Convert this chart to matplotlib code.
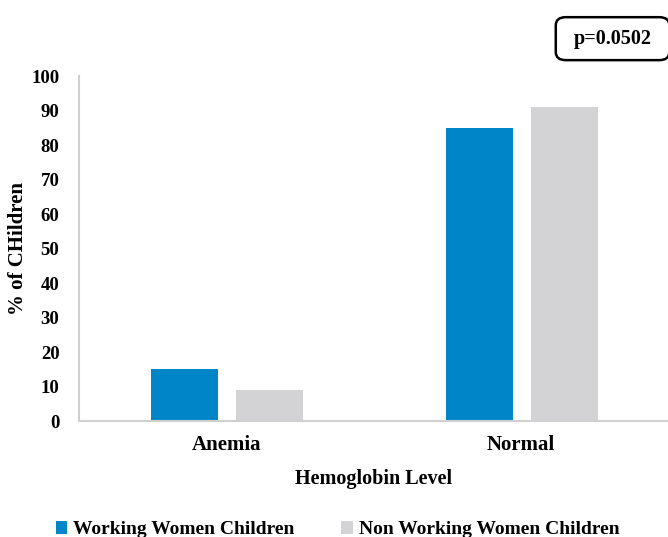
import numpy as np
import matplotlib.pyplot as plt
from matplotlib.patches import FancyBboxPatch

categories = ['Anemia', 'Normal']
working = [15, 85]
non_working = [9, 91]
series_names = ['Working Women Children', 'Non Working Women Children']

plt.rcParams['font.family'] = 'Liberation Serif'
plt.rcParams['font.weight'] = 'bold'

fig = plt.figure(figsize=(6.68, 5.37), dpi=100)
ax = fig.add_axes([0.118, 0.216, 0.882, 0.642])

x = np.arange(len(categories))
w = 0.228
ax.bar(x - 0.141, working, w, color='#0085C8', label=series_names[0])
ax.bar(x + 0.148, non_working, w, color='#D3D3D5', label=series_names[1])

ax.set_xlim(-0.5, 1.5)
ax.set_ylim(0, 100)
ax.set_yticks(range(0, 101, 10))
ax.set_xticks(x)
ax.set_xticklabels(categories, fontsize=15, fontweight='bold')
ax.tick_params(axis='y', labelsize=13.5, length=0, pad=14)
ax.tick_params(axis='x', length=0, pad=10)
for lab in ax.get_yticklabels():
    lab.set_fontweight('bold')

for s in ['top', 'right']:
    ax.spines[s].set_visible(False)
for s in ['left', 'bottom']:
    ax.spines[s].set_color('#D0D0D0')
    ax.spines[s].set_linewidth(1.5)

ax.set_xlabel('Hemoglobin Level', fontsize=14.5, fontweight='bold', labelpad=10)
ax.set_ylabel('% of CHildren', fontsize=15, fontweight='bold', va='center')
ax.yaxis.set_label_coords(-0.104, 0.5)

fig.legend(loc='lower center', bbox_to_anchor=(0.505, -0.035), ncol=2, frameon=False,
           prop={'size': 14, 'weight': 'bold'}, handlelength=0.6, handleheight=0.6,
           handletextpad=0.3, columnspacing=2.4)

box = FancyBboxPatch((0.832, 0.888), 0.17, 0.08, boxstyle='round,pad=0,rounding_size=0.015',
                     transform=fig.transFigure, facecolor='white', edgecolor='black',
                     linewidth=1.8, clip_on=False)
fig.patches.append(box)
fig.text(0.917, 0.928, 'p=0.0502', ha='center', va='center', fontsize=14.5, fontweight='bold')

fig.savefig('out.png', dpi=100)
